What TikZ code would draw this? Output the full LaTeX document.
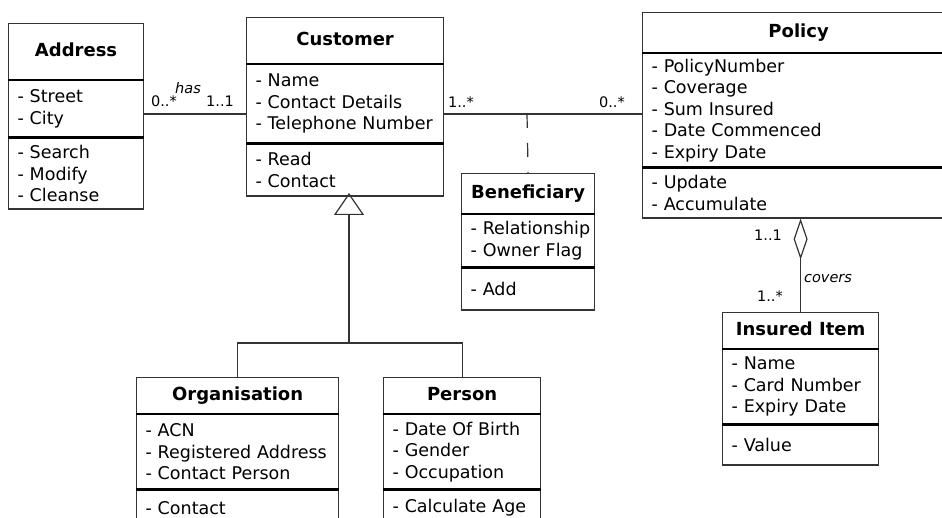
\documentclass[tikz,border=0pt]{standalone}
\usepackage{fontspec}
\setmainfont{DejaVu Sans}
\usetikzlibrary{arrows.meta}
\hyphenpenalty=10000
\exhyphenpenalty=10000
\hbadness=10000
\hfuzz=50pt

\begin{document}
\begin{tikzpicture}[x=1pt,y=-1pt,
    font=\fontsize{17.5}{21.5}\selectfont,
    color=black!80,text=black,line width=1.2pt,
    titlebox/.style={draw,anchor=north west,inner sep=0pt,text height=13pt,text depth=3.5pt,font=\fontsize{18}{21.5}\selectfont\bfseries},
    listbox/.style={draw,anchor=north west,inner xsep=9pt,inner ysep=0pt,align=left},
    sep/.style={draw=black,line width=2.4pt},
    mult/.style={anchor=base,inner sep=0pt,font=\fontsize{14.5}{16}\selectfont},
    role/.style={mult,font=\fontsize{14.5}{16}\selectfont\itshape},
    inherit/.style={-{Triangle[open,length=22pt,width=30pt]},fill=white},
    aggr/.style={-{Diamond[open,length=41pt,width=14pt]}},
    dashline/.style={dash pattern=on 14pt off 15pt}]
              \useasboundingbox (0,0) rectangle (942,518);
              \clip (0,0) rectangle (942,518);
              \node[titlebox,minimum width=135pt,minimum height=56pt] (addr) at (8,23) {Address};
              \node[listbox,text width=117pt,minimum height=56pt] (addr-a) at (addr.south west) {- Street\\- City};
              \node[listbox,text width=117pt,minimum height=71pt] (addr-o) at (addr-a.south west) {- Search\\- Modify\\- Cleanse};
              \node[titlebox,minimum width=197pt,minimum height=46pt] (cust) at (246,17) {Customer};
              \node[listbox,text width=179pt,minimum height=78pt] (cust-a) at (cust.south west) {- Name\\- Contact Details\\- Telephone Number};
              \node[listbox,text width=179pt,minimum height=52pt] (cust-o) at (cust-a.south west) {- Read\\- Contact};
              \node[titlebox,minimum width=312pt,minimum height=40pt] (pol) at (642,12) {Policy};
              \node[listbox,text width=294pt,minimum height=113pt] (pol-a) at (pol.south west) {- PolicyNumber\\- Coverage\\- Sum Insured\\- Date Commenced\\- Expiry Date};
              \node[listbox,text width=294pt,minimum height=50pt] (pol-o) at (pol-a.south west) {- Update\\- Accumulate};
              \node[titlebox,minimum width=133pt,minimum height=40pt] (ben) at (461,173) {Beneficiary};
              \node[listbox,text width=115pt,minimum height=52pt] (ben-a) at (ben.south west) {\mbox{- Relationship}\\- Owner Flag};
              \node[listbox,text width=115pt,minimum height=42pt] (ben-o) at (ben-a.south west) {- Add};
              \node[titlebox,minimum width=156pt,minimum height=36pt] (item) at (722,312) {Insured Item};
              \node[listbox,text width=138pt,minimum height=74pt] (item-a) at (item.south west) {- Name\\- Card Number\\- Expiry Date};
              \node[listbox,text width=138pt,minimum height=40pt] (item-o) at (item-a.south west) {- Value};
              \node[titlebox,minimum width=202pt,minimum height=36pt] (org) at (136,377) {Organisation};
              \node[listbox,text width=184pt,minimum height=74pt] (org-a) at (org.south west) {- ACN\\- Registered Address\\- Contact Person};
              \node[listbox,text width=184pt,minimum height=36pt] (org-o) at (org-a.south west) {- Contact};
              \node[titlebox,minimum width=157pt,minimum height=36pt] (pers) at (383,377) {Person};
              \node[listbox,text width=139pt,minimum height=74pt] (pers-a) at (pers.south west) {- Date Of Birth\\- Gender\\- Occupation};
              \node[listbox,text width=139pt,minimum height=36pt] (pers-o) at (pers-a.south west) {- Calculate Age};
              \foreach \c in {addr,cust,pol,ben,item,org,pers}{
                \path[sep] (\c-a.north west)--(\c-a.north east);
                \path[sep] (\c-o.north west)--(\c-o.north east);
              }
              \coordinate (assoc) at (527,114);
              \coordinate (gen) at (349,193);
              \coordinate (fork) at (349,343);
              \path[draw] (addr-a.east |- assoc)--(cust-a.west |- assoc);
              \node[mult] (has-m1) at (164,107) {0..*};
              \node[role] (has-r) at (188,94) {has};
              \node[mult] (has-m2) at (220,107) {1..1};
              \path[draw] (cust-a.east |- assoc)--(pol-a.west |- assoc);
              \node[mult] (hold-m1) at (461,108) {1..*};
              \node[mult] (hold-m2) at (612,108) {0..*};
              \path[draw,dashline] (assoc)--(ben.north);
              \path[draw,inherit] (fork)--(gen);
              \path[draw] (org.north) |- (fork) -| (pers.north);
              \path[draw,aggr] (item.north)--(item.north |- pol-o.south);
              \node[mult] (cov-m1) at (768,241) {1..1};
              \node[role] (cov-r) at (828,283) {covers};
              \node[mult] (cov-m2) at (770,302) {1..*};
            \end{tikzpicture}
\end{document}
